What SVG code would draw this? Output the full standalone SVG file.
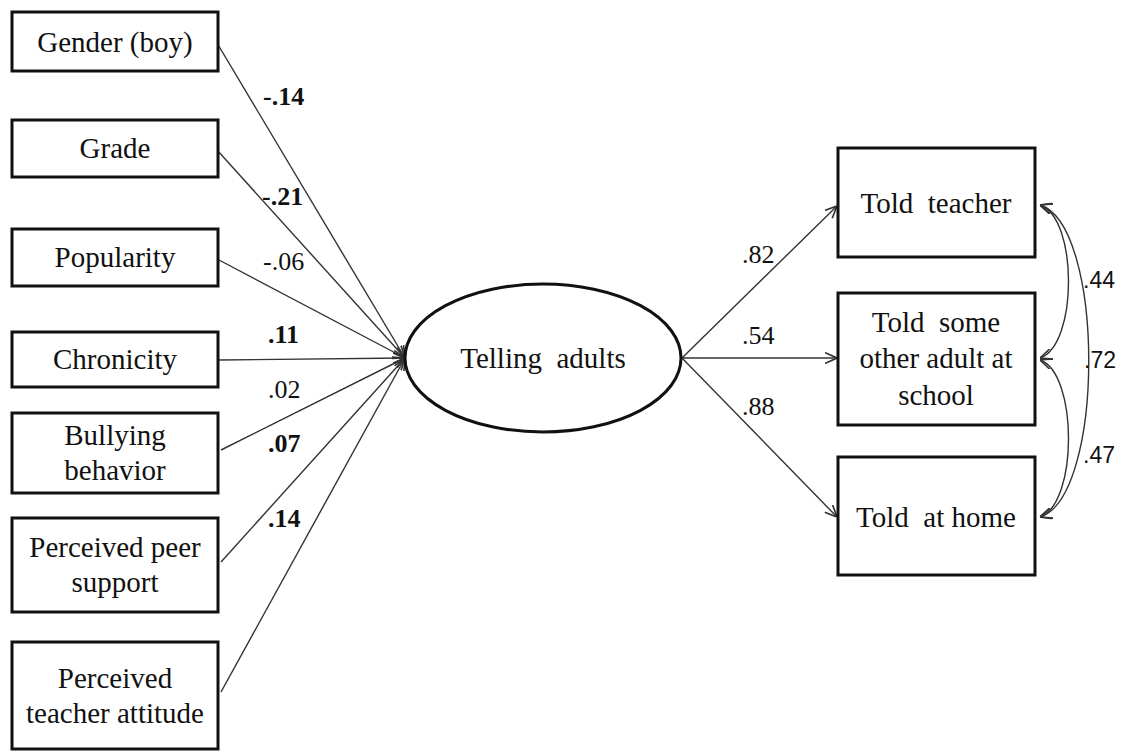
<svg xmlns="http://www.w3.org/2000/svg" width="1126" height="753" viewBox="0 0 1126 753">
<defs>
<style>
text{font-family:"Liberation Serif",Tinos,"Times New Roman","DejaVu Serif",serif}
.box{fill:#fff;stroke:#111;stroke-width:3}
.t{font-size:29px;fill:#111;text-anchor:middle}
.lb{font-size:26px;fill:#111}
.b{font-weight:bold}
.sl{font-size:23px;fill:#111;font-family:"Liberation Sans",Arial,sans-serif}
.c{fill:none;stroke:#333;stroke-width:1.4}
</style>
<marker id="ah" viewBox="0 0 10 10" refX="10" refY="5" markerWidth="12" markerHeight="12" markerUnits="userSpaceOnUse" orient="auto-start-reverse">
<path d="M0,0.5 L10,5 L0,9.5" fill="none" stroke="#333" stroke-width="1.4"/>
</marker>
</defs>
<rect width="1126" height="753" fill="#fff"/>
<g id="connectors">
<line class="c" x1="217" y1="43" x2="405" y2="358" marker-end="url(#ah)"/>
<line class="c" x1="217" y1="150" x2="405" y2="358" marker-end="url(#ah)"/>
<line class="c" x1="219" y1="260" x2="405" y2="358" marker-end="url(#ah)"/>
<line class="c" x1="219" y1="360" x2="405" y2="358" marker-end="url(#ah)"/>
<line class="c" x1="221" y1="450" x2="405" y2="358" marker-end="url(#ah)"/>
<line class="c" x1="221" y1="562" x2="405" y2="358" marker-end="url(#ah)"/>
<line class="c" x1="221" y1="692" x2="405" y2="358" marker-end="url(#ah)"/>
<line class="c" x1="682" y1="358" x2="837" y2="206" marker-end="url(#ah)"/>
<line class="c" x1="682" y1="358" x2="837" y2="358" marker-end="url(#ah)"/>
<line class="c" x1="682" y1="358" x2="837" y2="517" marker-end="url(#ah)"/>
<path class="c" d="M1040,205 C1078,218 1078,345 1040,358" marker-start="url(#ah)" marker-end="url(#ah)"/>
<path class="c" d="M1040,360 C1078,373 1078,504 1040,517" marker-start="url(#ah)" marker-end="url(#ah)"/>
<path class="c" d="M1040,205 C1105,225 1105,497 1040,517" marker-start="url(#ah)" marker-end="url(#ah)"/>
<text class="lb b" x="263" y="105">-.14</text>
<text class="lb b" x="262" y="205">-.21</text>
<text class="lb" x="263" y="270">-.06</text>
<text class="lb b" x="268" y="343">.11</text>
<text class="lb" x="268" y="398">.02</text>
<text class="lb b" x="268" y="452">.07</text>
<text class="lb b" x="268" y="527">.14</text>
<text class="lb" x="742" y="263">.82</text>
<text class="lb" x="742" y="344">.54</text>
<text class="lb" x="742" y="415">.88</text>
<text class="sl" x="1083" y="288">.44</text>
<text class="sl" x="1084" y="368">.72</text>
<text class="sl" x="1083" y="463">.47</text>
</g>
<g id="n-gender"><rect class="box" x="12" y="12" width="206" height="59"/><text class="t" x="115" y="52">Gender (boy)</text></g>
<g id="n-grade"><rect class="box" x="12" y="120" width="206" height="57"/><text class="t" x="115" y="158">Grade</text></g>
<g id="n-popularity"><rect class="box" x="12" y="229" width="206" height="57"/><text class="t" x="115" y="267">Popularity</text></g>
<g id="n-chronicity"><rect class="box" x="12" y="332" width="206" height="55"/><text class="t" x="115" y="369">Chronicity</text></g>
<g id="n-bullying"><rect class="box" x="12" y="413" width="206" height="80"/><text class="t" x="115" y="445">Bullying</text><text class="t" x="115" y="480">behavior</text></g>
<g id="n-peer"><rect class="box" x="12" y="518" width="206" height="94"/><text class="t" x="115" y="557">Perceived peer</text><text class="t" x="115" y="592">support</text></g>
<g id="n-teacher-att"><rect class="box" x="12" y="642" width="206" height="107"/><text class="t" x="115" y="688">Perceived</text><text class="t" x="115" y="723">teacher attitude</text></g>
<g id="n-telling"><ellipse cx="543" cy="358" rx="138" ry="74" fill="#fff" stroke="#111" stroke-width="3"/><text class="t" x="543" y="368">Telling&#160; adults</text></g>
<g id="n-told-teacher"><rect class="box" x="838" y="148" width="197" height="109"/><text class="t" x="936" y="213">Told&#160; teacher</text></g>
<g id="n-told-other"><rect class="box" x="838" y="293" width="197" height="132"/><text class="t" x="936" y="332">Told&#160; some</text><text class="t" x="936" y="368">other adult at</text><text class="t" x="936" y="405">school</text></g>
<g id="n-told-home"><rect class="box" x="838" y="457" width="197" height="118"/><text class="t" x="936" y="527">Told&#160; at home</text></g>
</svg>
